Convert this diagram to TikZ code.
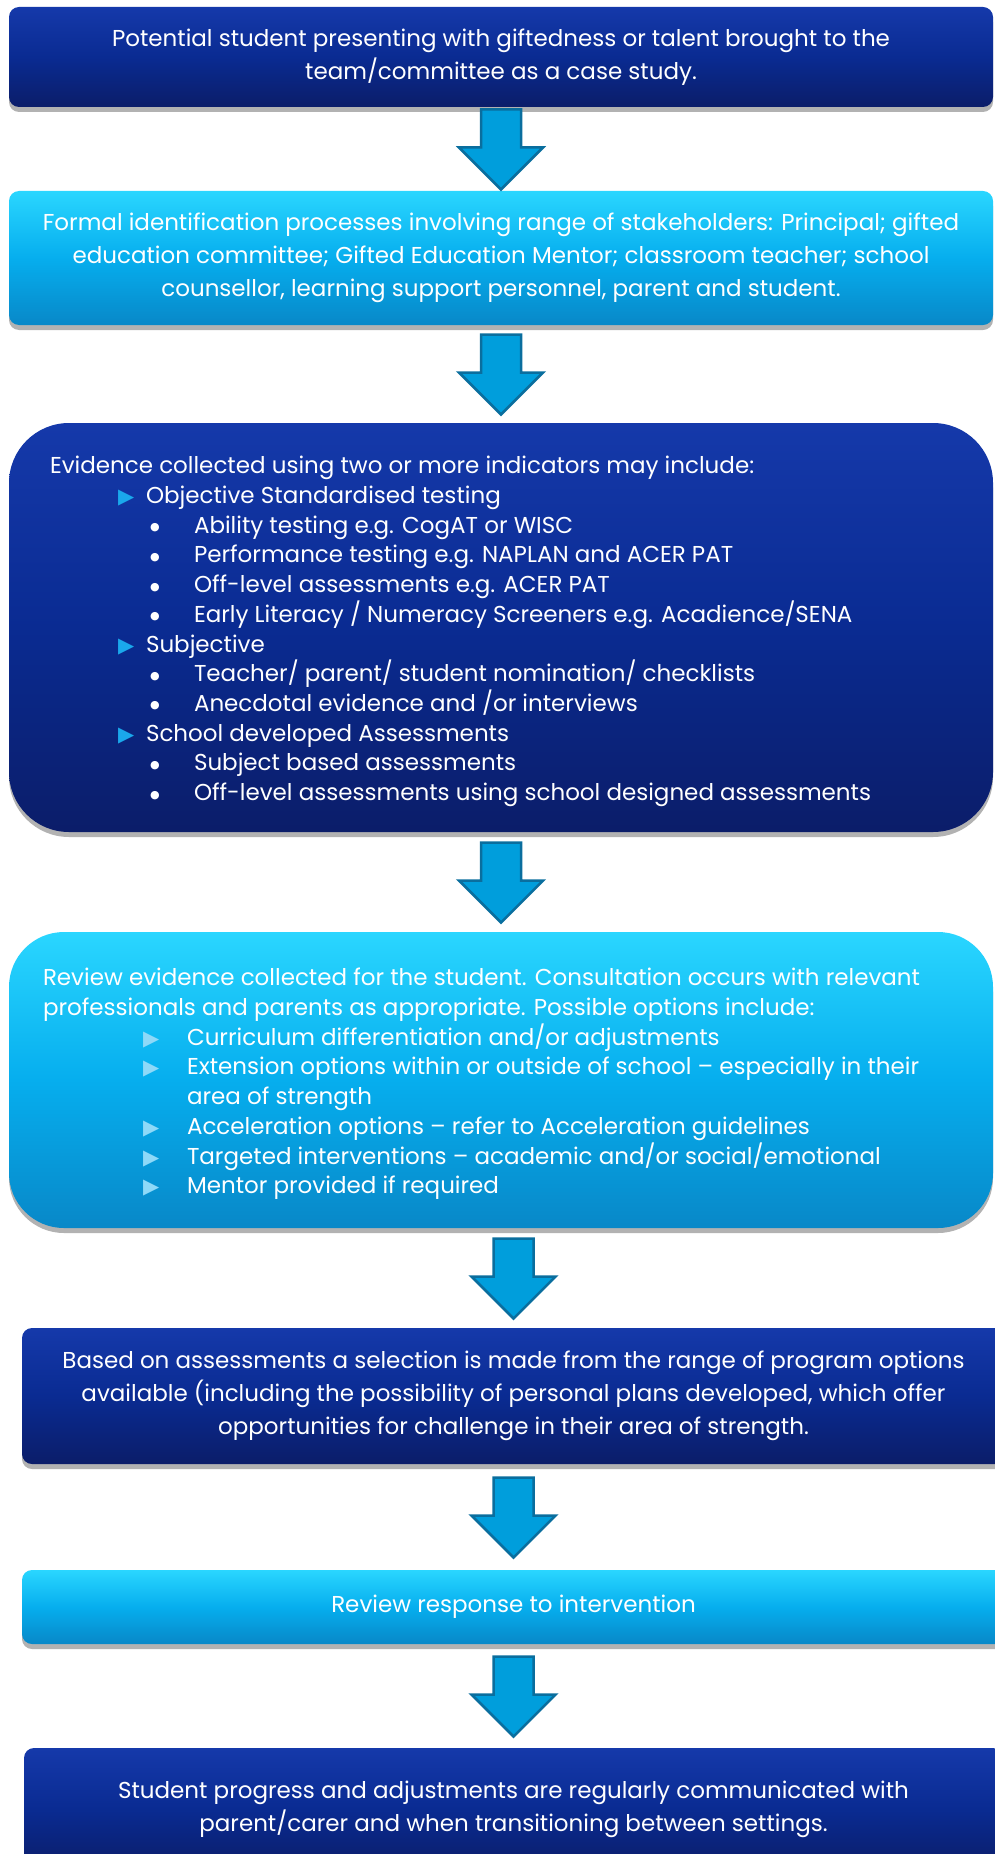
\documentclass[tikz,border=0pt]{standalone}
\usepackage{fontspec}
\setmainfont{Poppins}
\newfontfamily\symfont{DejaVu Sans}
\usetikzlibrary{calc,shadows}

\definecolor{navytop}{HTML}{1539AA}
\definecolor{navymid}{HTML}{0A2B92}
\definecolor{navybot}{HTML}{0B1D69}
\definecolor{skytop}{HTML}{2AD6FF}
\definecolor{skymid}{HTML}{06AEEE}
\definecolor{skybot}{HTML}{0888C8}
\definecolor{arrowfill}{HTML}{009EDC}
\definecolor{arrowline}{HTML}{0A6E9E}
\definecolor{tridark}{HTML}{1AA8EC}
\definecolor{trilight}{HTML}{8ED9F8}

\newcommand\trisym{{\symfont\fontsize{21}{21}\selectfont ▶}}
\newcommand\dotsym{\raisebox{2.5pt}{\symfont\fontsize{11}{11}\selectfont ●}}
\newcommand\objtri{\hspace*{68pt}\makebox[28pt][l]{\textcolor{tridark}{\trisym}}}
\newcommand\objdot{\hspace*{100pt}\makebox[44pt][l]{\dotsym}}
\newcommand\opttri{\hspace*{100pt}\makebox[44pt][l]{\textcolor{trilight}{\trisym}}}
\newcommand\flowarrow[2]{%
  \coordinate (#1-#2) at ($(#1.south)!0.5!(#2.north)$);
  \draw[bigarrow] (#1-#2 -| #2.north) ++(-20,-39.5) -- ++(40,0) -- ++(0,38) -- ++(22,0)
    -- ++(-42,42) -- ++(-42,-42) -- ++(22,0) -- cycle;}

\tikzset{
  box/.style={rounded corners=10pt, text=white, align=center, inner sep=0pt,
    font=\fontsize{23}{33}\selectfont,
    drop shadow={shadow xshift=0pt, shadow yshift=-5pt, opacity=0.3, fill=black}},
  navybox/.style={box, top color=navytop, bottom color=navybot, middle color=navymid},
  skybox/.style={box, top color=skytop, bottom color=skybot, middle color=skymid},
  listtext/.style={text=white, align=left, inner sep=0pt, font=\fontsize{23}{29.7}\selectfont},
  bigarrow/.style={fill=arrowfill, draw=arrowline, line width=2.5pt, line join=miter},
}

\begin{document}
\begin{tikzpicture}[x=1pt,y=-1pt]
\useasboundingbox (0,0) rectangle (995,1854);

\node[navybox, minimum width=984pt, minimum height=100pt] (b1) at (501,57)
  {Potential student presenting with giftedness or talent brought to the\\
   team/committee as a case study.};

\node[skybox, minimum width=984pt, minimum height=134pt] (b2) at (501,258)
  {Formal identification processes involving range of stakeholders: Principal; gifted\\
   education committee; Gifted Education Mentor; classroom teacher; school\\
   counsellor, learning support personnel, parent and student.};

\node[navybox, rounded corners=60pt, minimum width=984pt, minimum height=409pt] (b3) at (501,627.5) {};
\node[listtext, anchor=west] (t3) at ([xshift=41pt,yshift=-4pt]b3.west)
  {Evidence collected using two or more indicators may include:\\
   \objtri Objective Standardised testing\\
   \objdot Ability testing e.g. CogAT or WISC\\
   \objdot Performance testing e.g. NAPLAN and ACER PAT\\
   \objdot Off-level assessments e.g. ACER PAT\\
   \objdot Early Literacy / Numeracy Screeners e.g. Acadience/SENA\\
   \objtri Subjective\\
   \objdot Teacher/ parent/ student nomination/ checklists\\
   \objdot Anecdotal evidence and /or interviews\\
   \objtri School developed Assessments\\
   \objdot Subject based assessments\\
   \objdot Off-level assessments using school designed assessments};

\node[skybox, rounded corners=55pt, minimum width=984pt, minimum height=296pt] (b4) at (501,1080) {};
\node[listtext, anchor=west] (t4) at ([xshift=34pt,yshift=-4pt]b4.west)
  {Review evidence collected for the student. Consultation occurs with relevant\\
   professionals and parents as appropriate. Possible options include:\\
   \opttri Curriculum differentiation and/or adjustments\\
   \opttri Extension options within or outside of school – especially in their\\
   \hspace*{144pt}area of strength\\
   \opttri Acceleration options – refer to Acceleration guidelines\\
   \opttri Targeted interventions – academic and/or social/emotional\\
   \opttri Mentor provided if required};

\node[navybox, minimum width=983pt, minimum height=136pt] (b5) at (513.5,1396)
  {Based on assessments a selection is made from the range of program options\\
   available (including the possibility of personal plans developed, which offer\\
   opportunities for challenge in their area of strength.};

\node[skybox, minimum width=983pt, minimum height=74pt] (b6) at (513.5,1607)
  {Review response to intervention};

\node[navybox, minimum width=979pt, minimum height=122pt] (b7) at (513.5,1809)
  {Student progress and adjustments are regularly communicated with\\
   parent/carer and when transitioning between settings.};

% arrows between the steps
\flowarrow{b1}{b2}
\flowarrow{b2}{b3}
\flowarrow{b3}{b4}
\flowarrow{b4}{b5}
\flowarrow{b5}{b6}
\flowarrow{b6}{b7}
\end{tikzpicture}
\end{document}
